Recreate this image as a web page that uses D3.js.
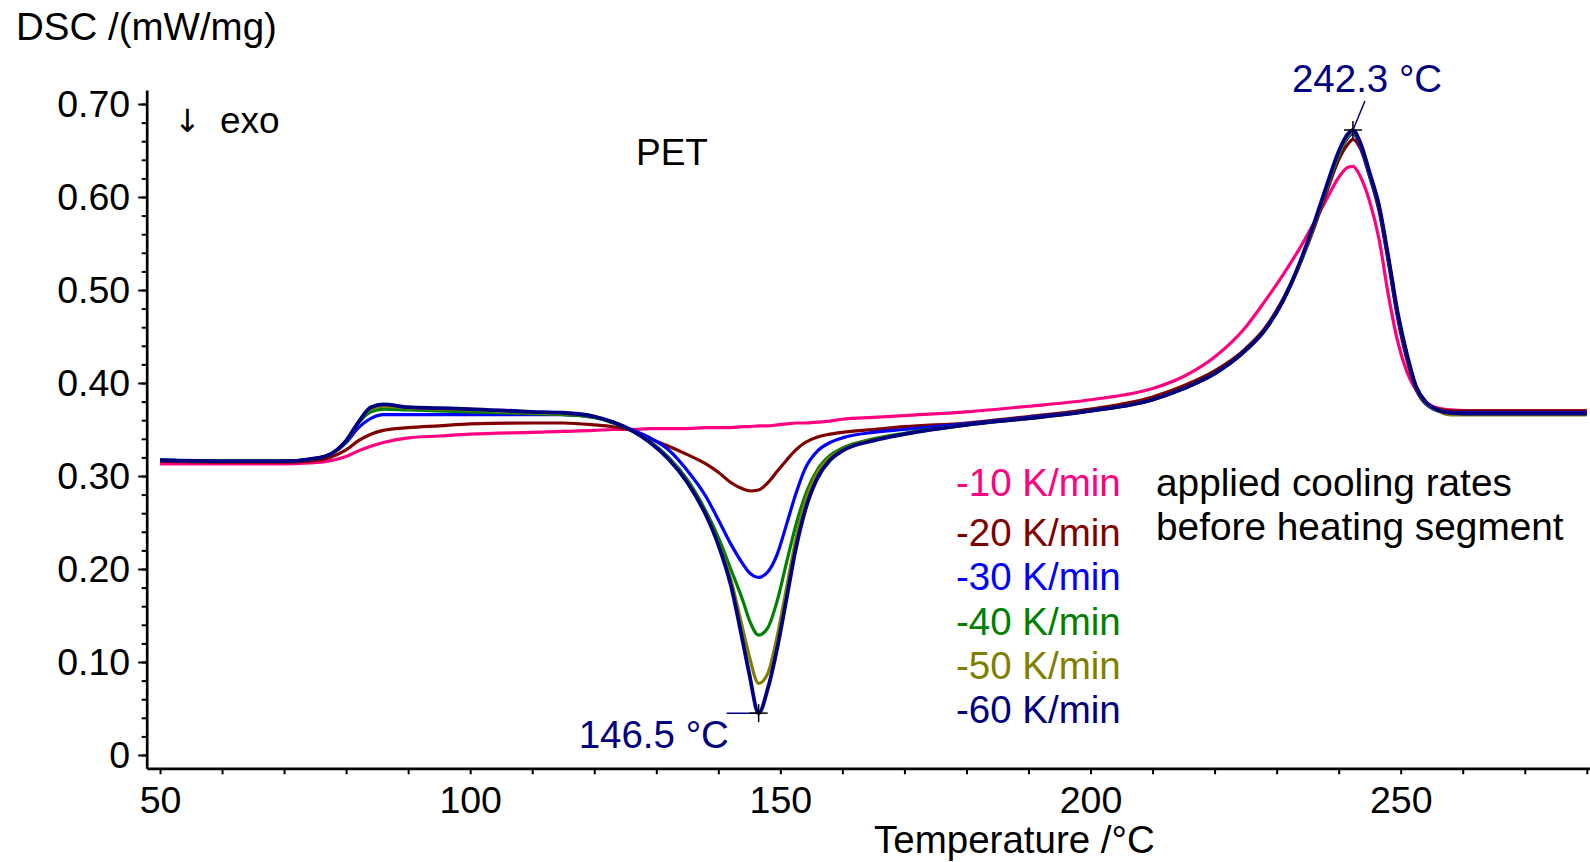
<!DOCTYPE html>
<html>
<head>
<meta charset="utf-8">
<script src="https://cdn.jsdelivr.net/npm/d3@7"></script>
<style>
  body { margin: 0; background: #fff; }
  svg { display: block; font-family: "Liberation Sans", Arial, sans-serif; }
</style>
</head>
<body>
<div id="chart"></div>
<script>
// temperature grid (°C) shared by all curves
const temps = [50, 60, 70, 74, 77, 80, 82, 84, 86, 90, 95, 100, 110, 115, 120, 123, 126, 129, 132, 135,
  138, 140, 142, 144, 145, 146.5, 148, 149.5, 151, 152.5, 154, 156, 158, 160, 165, 170, 180, 190, 200, 210,
  215, 220, 225, 228, 231, 234, 236, 238, 240, 241.5, 242.3, 243.5, 245, 246.5, 248, 249.5, 251, 252.5, 254, 256,
  258, 262, 270, 280];

// DSC signal, mW/mg, one list per cooling rate
const rate10 = [.313, .313, .313, .314, .316, .321, .327, .332, .336, .341, .343, .345, .347, .348, .349, .350, .350, .351, .351, .351,
  .352, .352, .352, .353, .353, .354, .354, .355, .356, .357, .357, .358, .359, .361, .363, .365, .369, .375, .382, .394,
  .407, .428, .460, .487, .516, .548, .572, .597, .621, .632, .633, .622, .595, .555, .495, .445, .412, .392, .380, .373,
  .371, .370, .370, .370];
const rate20 = [.316, .315, .315, .316, .319, .328, .338, .345, .349, .352, .354, .356, .357, .357, .355, .353, .349, .340, .332, .323,
  .313, .304, .293, .286, .284, .285, .293, .305, .317, .328, .336, .342, .345, .347, .350, .353, .357, .364, .372, .385,
  .397, .413, .437, .458, .490, .532, .566, .604, .640, .657, .662, .652, .622, .585, .530, .470, .425, .393, .378, .372,
  .370, .370, .370, .370];
const rate30 = [.317, .316, .316, .318, .322, .336, .352, .362, .366, .366, .366, .366, .366, .366, .363, .358, .350, .341, .328, .306,
  .278, .253, .227, .205, .196, .191, .197, .216, .248, .281, .308, .327, .336, .341, .347, .350, .356, .363, .370, .382,
  .394, .410, .435, .456, .488, .532, .569, .607, .645, .664, .668, .655, .622, .588, .533, .473, .428, .394, .378, .370,
  .368, .368, .368, .368];
const rate40 = [.317, .316, .316, .318, .322, .337, .357, .369, .372, .371, .370, .369, .367, .366, .363, .357, .349, .337, .320, .296,
  .262, .234, .200, .165, .145, .129, .137, .166, .207, .247, .279, .307, .322, .330, .340, .346, .355, .362, .370, .382,
  .394, .410, .435, .456, .488, .532, .569, .607, .645, .665, .670, .657, .624, .590, .535, .475, .430, .395, .379, .370,
  .366, .366, .366, .366];
const rate50 = [.317, .316, .316, .318, .322, .338, .358, .372, .375, .373, .372, .371, .368, .367, .364, .358, .349, .336, .319, .294,
  .259, .228, .189, .134, .106, .077, .088, .128, .180, .232, .272, .304, .320, .328, .339, .345, .355, .362, .370, .382,
  .394, .410, .435, .456, .488, .532, .569, .609, .647, .666, .670, .657, .625, .590, .535, .475, .430, .395, .379, .370,
  .366, .366, .366, .366];
const rate60 = [.317, .316, .316, .318, .322, .338, .358, .374, .377, .374, .373, .372, .369, .368, .364, .358, .349, .336, .318, .293,
  .258, .226, .183, .120, .087, .045, .072, .115, .168, .222, .263, .298, .317, .327, .338, .345, .355, .362, .370, .382,
  .394, .410, .435, .456, .488, .534, .571, .611, .649, .668, .672, .658, .626, .591, .536, .476, .431, .396, .380, .371,
  .368, .367, .367, .367];

const series = [rate10, rate20, rate30, rate40, rate50, rate60];
const seriesLabels = ["-10 K/min", "-20 K/min", "-30 K/min", "-40 K/min", "-50 K/min", "-60 K/min"];
const colors = ["#ff0080", "#800000", "#0000ff", "#008000", "#808000", "#000080"];

const yTicks = [0, 0.1, 0.2, 0.3, 0.4, 0.5, 0.6, 0.7];
const xTicks = [50, 100, 150, 200, 250];

// marked peaks
const peakTemps = [242.3, 146.5];
const peakValues = [0.672, 0.045];
const peakLabels = ["242.3 °C", "146.5 °C"];

var width = 1590,
  height = 862;

var svg = d3.select("#chart").append("svg")
  .attr("width", width)
  .attr("height", height);

svg.append("rect").attr("width", width).attr("height", height).attr("fill", "#fff");

var x = d3.scaleLinear().domain([50, 250]).range([160, 1400.7]);
x.domain([x.invert(146.7), x.invert(1590)]).range([146.7, 1590]);

var y = d3.scaleLinear().domain([0, 0.7]).range([755, 104]);
y.domain([y.invert(768.3), y.invert(90)]).range([768.3, 90]);

/* ------- AXES -------*/

var minorY = d3.range(0, 0.7001, 0.02);
svg.append("g")
  .attr("transform", "translate(146.7,0)")
  .call(d3.axisLeft(y).tickValues(minorY).tickSize(5).tickSizeOuter(0).tickFormat(""))
  .call(g => g.select(".domain").remove())
  .selectAll("line").attr("stroke-width", 2);

var yAxis = svg.append("g")
  .attr("transform", "translate(146.7,0)")
  .call(d3.axisLeft(y).tickValues(yTicks).tickSize(8.5).tickPadding(8).tickSizeOuter(0)
    .tickFormat(d => d === 0 ? "0" : d3.format(".2f")(d)));

var xAxis = svg.append("g")
  .attr("transform", "translate(0,768.3)")
  .call(d3.axisBottom(x).tickValues(d3.range(50, 281, 10)).tickSize(6).tickPadding(12).tickSizeOuter(0)
    .tickFormat(d => xTicks.includes(d) ? d : ""));

[yAxis, xAxis].forEach(function(g) {
  g.select(".domain").attr("stroke-width", 2.7);
  g.selectAll(".tick line").attr("stroke-width", 2);
  g.selectAll("text").attr("font-size", 37.5).attr("fill", "#000").style("font-family", "inherit");
});

svg.append("text").attr("x", 16).attr("y", 40).attr("font-size", 38.5).text("DSC /(mW/mg)");
svg.append("text").attr("x", 874).attr("y", 853).attr("font-size", 38.5).text("Temperature /°C");
svg.append("text").attr("x", 174).attr("y", 132).attr("font-size", 32)
  .style("font-family", "'DejaVu Sans', sans-serif").text("↓");
svg.append("text").attr("x", 220).attr("y", 133).attr("font-size", 37).text("exo");
svg.append("text").attr("x", 636).attr("y", 165).attr("font-size", 37).text("PET");

/* ------- CURVES -------*/

var line = d3.line()
  .x(d => x(d[0]))
  .y(d => y(d[1]))
  .curve(d3.curveMonotoneX);

svg.append("g").selectAll("path")
  .data(series)
  .enter().append("path")
  .attr("fill", "none")
  .attr("stroke", (d, i) => colors[i])
  .attr("stroke-width", (d, i) => i === 5 ? 3.8 : 3.2)
  .attr("stroke-linejoin", "round")
  .attr("d", d => line(d.map((v, k) => [temps[k], v])));

/* ------- LEGEND -------*/

svg.append("g").selectAll("text")
  .data(seriesLabels)
  .enter().append("text")
  .attr("x", 956)
  .attr("y", (d, i) => i === 0 ? 496 : 502 + i * 44.2)
  .attr("font-size", 38.5)
  .attr("fill", (d, i) => colors[i])
  .text(d => d);

svg.append("text").attr("x", 1156).attr("y", 496).attr("font-size", 38.8).text("applied cooling rates");
svg.append("text").attr("x", 1156).attr("y", 540).attr("font-size", 38.8).text("before heating segment");

/* ------- PEAK MARKERS -------*/

var navy = "#000080";
peakTemps.forEach(function(t, i) {
  var px = x(t), py = y(peakValues[i]);
  var g = svg.append("g");
  if (i === 0) {
    g.append("line").attr("x1", px).attr("y1", py).attr("x2", px + 12).attr("y2", py - 29)
      .attr("stroke", navy).attr("stroke-width", 1.5);
    g.append("text").attr("x", px - 61).attr("y", py - 38).attr("font-size", 38.5).attr("fill", navy).text(peakLabels[i]);
  } else {
    g.append("line").attr("x1", px - 32).attr("y1", py).attr("x2", px).attr("y2", py)
      .attr("stroke", navy).attr("stroke-width", 1.5);
    g.append("text").attr("x", px - 180).attr("y", py + 35).attr("font-size", 38.5).attr("fill", navy).text(peakLabels[i]);
  }
  g.append("line").attr("x1", px - 9).attr("x2", px + 9).attr("y1", py).attr("y2", py).attr("stroke", "#000").attr("stroke-width", 1.5);
  g.append("line").attr("x1", px).attr("x2", px).attr("y1", py - 9).attr("y2", py + 9).attr("stroke", "#000").attr("stroke-width", 1.5);
});
</script>
</body>
</html>
